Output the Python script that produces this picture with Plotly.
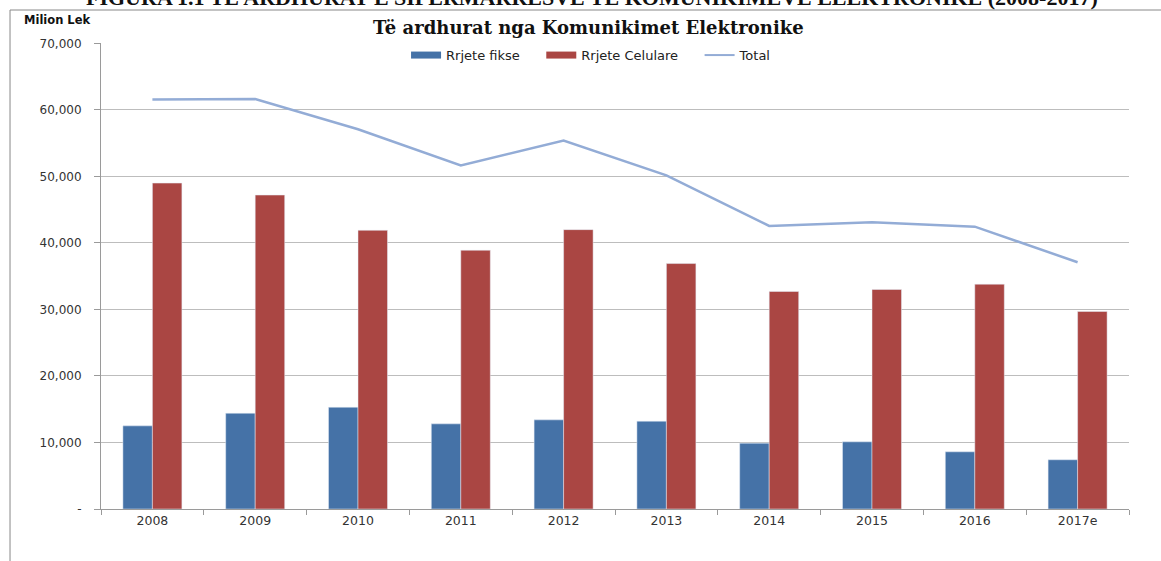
import plotly.graph_objects as go

years = ["2008", "2009", "2010", "2011", "2012", "2013", "2014", "2015", "2016", "2017e"]
fikse = [12500, 14400, 15300, 12800, 13400, 13200, 9900, 10100, 8600, 7400]
celulare = [49000, 47200, 41900, 38900, 42000, 36900, 32700, 33000, 33800, 29700]
total = [61550, 61650, 57100, 51650, 55400, 50150, 42550, 43100, 42450, 37100]
ytick_vals = [0, 10000, 20000, 30000, 40000, 50000, 60000, 70000]
ytick_text = ["-", "10,000", "20,000", "30,000", "40,000", "50,000", "60,000", "70,000"]

BLUE = "#4572A7"
RED = "#AA4643"
LINE = "#93ACD6"
PAD = "\u00a0" * 4

fig = go.Figure()
fig.add_trace(go.Bar(x=years, y=fikse, name="Rrjete fikse", marker_color=BLUE, showlegend=False))
fig.add_trace(go.Bar(x=years, y=celulare, name="Rrjete Celulare", marker_color=RED, showlegend=False))
fig.add_trace(go.Scatter(x=years, y=total, name="Total", mode="lines",
                         line=dict(color=LINE, width=2.5), showlegend=False))
# legend entries (wide rectangles like the reference)
fig.add_trace(go.Scatter(x=[None], y=[None], mode="lines", name="Rrjete fikse" + PAD,
                         line=dict(color=BLUE, width=7)))
fig.add_trace(go.Scatter(x=[None], y=[None], mode="lines", name="Rrjete Celulare" + PAD,
                         line=dict(color=RED, width=7)))
fig.add_trace(go.Scatter(x=[None], y=[None], mode="lines", name="Total",
                         line=dict(color=LINE, width=2)))

fig.update_layout(
    width=1161, height=561,
    margin=dict(l=101, r=32, t=43, b=52, autoexpand=False),
    plot_bgcolor="white", paper_bgcolor="white",
    barmode="group", bargap=0.426, bargroupgap=0,
    showlegend=True,
    legend=dict(orientation="h", x=0.4767, xanchor="center", y=0.974, yanchor="middle",
                font=dict(family="DejaVu Sans", size=13, color="#222"),
                bgcolor="rgba(0,0,0,0)", traceorder="normal"),
    font=dict(family="DejaVu Sans", color="#333"),
)
fig.update_xaxes(type="category", showline=True, linecolor="#9a9a9a", linewidth=1,
                 ticks="outside", tickson="boundaries", ticklen=5, tickcolor="#9a9a9a",
                 tickfont=dict(family="DejaVu Sans", size=12.5, color="#333"),
                 showgrid=False)
fig.update_yaxes(range=[0, 70060], tickvals=ytick_vals, ticktext=ytick_text,
                 showline=True, linecolor="#9a9a9a", linewidth=1,
                 ticks="outside", ticklen=6, tickcolor="#9a9a9a", ticklabelstandoff=10,
                 gridcolor="#bdbdbd", gridwidth=1, zeroline=False,
                 tickfont=dict(family="DejaVu Sans", size=12, color="#333"))

fig.add_annotation(text="<b>Të ardhurat nga Komunikimet Elektronike</b>", xref="paper", yref="paper",
                   x=0.4747, y=1.0343, yanchor="middle", showarrow=False,
                   font=dict(family="DejaVu Serif", size=18, color="#111"))
fig.add_annotation(text="<b>Milion Lek</b>", xref="paper", yref="paper",
                   x=-0.077, xanchor="left", y=1.0494, yanchor="middle", showarrow=False,
                   font=dict(family="DejaVu Sans", size=11.5, color="#111"))
fig.add_annotation(text="<b>FIGURA 1.1 TË ARDHURAT E SIPËRMARRËSVE TË KOMUNIKIMEVE ELEKTRONIKE (2008-2017)</b>",
                   xref="paper", yref="paper", x=0.4776, y=1.0, yanchor="bottom", yshift=31,
                   showarrow=False,
                   font=dict(family="Liberation Serif", size=22, color="#111"))
# frame of the chart area
fig.add_shape(type="line", xref="paper", yref="paper", x0=-0.0885, x1=-0.0885, y0=-0.13, y1=1.0708,
              line=dict(color="#888", width=1))
fig.add_shape(type="line", xref="paper", yref="paper", x0=-0.0885, x1=1.04, y0=1.0708, y1=1.0708,
              line=dict(color="#888", width=1))

fig.write_html("out.html", config={"displayModeBar": False},
               post_script="document.body.style.margin='0';document.body.style.overflow='hidden';")
